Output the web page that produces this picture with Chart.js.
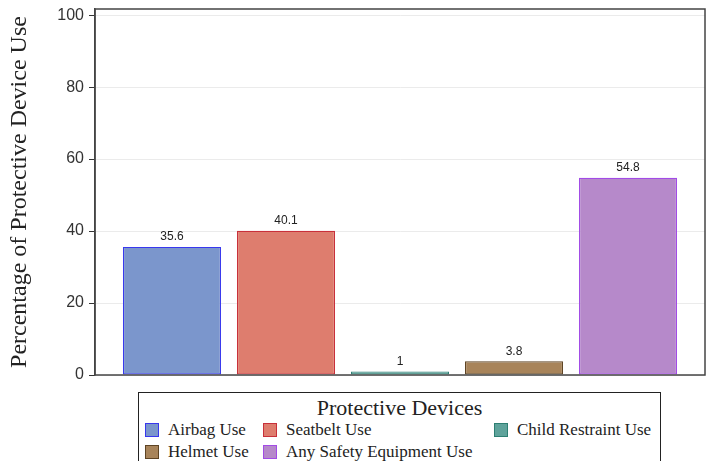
<!DOCTYPE html>
<html>
<head>
<meta charset="utf-8">
<script src="https://cdn.jsdelivr.net/npm/chart.js@4"></script>
<style>
  html, body { margin: 0; padding: 0; background: #fff; overflow: hidden; }
  #wrap { position: relative; width: 713px; height: 461px; }
  #legend {
    position: absolute; left: 138px; top: 392px; width: 521px; height: 90px;
    border: 1px solid #222; background: #fff;
    font-family: "Liberation Serif", serif; color: #222;
  }
  #legend .ttl { text-align: center; font-size: 22px; line-height: 22px; margin-top: 4px; }
  #legend .grid { display: grid; grid-template-columns: 118px 231px auto; padding-left: 6px; }
  #legend .item { display: flex; align-items: center; height: 22px; font-size: 17px; white-space: nowrap; }
  #legend .sw { width: 12px; height: 12px; border: 1.5px solid; margin-right: 9px; }
</style>
</head>
<body>
<div id="wrap">
  <canvas id="chart" width="713" height="461"></canvas>
  <div id="legend"></div>
</div>
<script>
// categories and values
const devices = ['Airbag Use', 'Seatbelt Use', 'Child Restraint Use', 'Helmet Use', 'Any Safety Equipment Use'];
const percents = [35.6, 40.1, 1, 3.8, 54.8];
const yTicks = [0, 20, 40, 60, 80, 100];
const fills = ['#7B96CC', '#DE7D6E', '#5FA39B', '#A8845A', '#B689CA'];
const borders = ['#3838EE', '#C8303A', '#2E7F73', '#5E4424', '#A24BE6'];

// legend grid order (row by row, three columns)
const legendOrder = [0, 1, 2, 3, 4];

const datasets = devices.map((name, i) => ({
  label: name,
  data: [{ x: i, y: percents[i] }],
  backgroundColor: fills[i],
  borderColor: borders[i],
  borderWidth: 1.2,
  borderSkipped: false
}));

// value labels above each bar
const barLabels = {
  id: 'barLabels',
  afterDatasetsDraw(chart) {
    const ctx = chart.ctx;
    ctx.save();
    ctx.font = '12px "Liberation Sans Narrow", "Liberation Sans", sans-serif';
    ctx.fillStyle = '#222';
    ctx.textAlign = 'center';
    ctx.textBaseline = 'bottom';
    chart.data.datasets.forEach((ds, i) => {
      const bar = chart.getDatasetMeta(i).data[0];
      ctx.fillText(String(ds.data[0].y), bar.x, bar.y - 4);
    });
    ctx.restore();
  }
};

// box round the plot area
const frame = {
  id: 'frame',
  afterDraw(chart) {
    const { left, top, right, bottom } = chart.chartArea;
    const ctx = chart.ctx;
    ctx.save();
    ctx.strokeStyle = '#444';
    ctx.lineWidth = 1.5;
    ctx.strokeRect(left, top, right - left, bottom - top);
    ctx.restore();
  }
};

new Chart(document.getElementById('chart'), {
  type: 'bar',
  data: { datasets: datasets },
  options: {
    responsive: false,
    animation: false,
    layout: { padding: { left: 0, right: 8, top: 9, bottom: 86 } },
    datasets: { bar: { grouped: false, barPercentage: 0.86, categoryPercentage: 1 } },
    plugins: { legend: { display: false }, tooltip: { enabled: false } },
    scales: {
      x: {
        type: 'linear', min: -0.675, max: 4.675, offset: false, display: false,
        afterBuildTicks(scale) { scale.ticks = devices.map((d, i) => ({ value: i })); }
      },
      y: {
        min: 0,
        max: 101.7,
        afterFit(scale) {
          scale.width = 95;
          scale.paddingTop = 0;
          scale.paddingBottom = 0;
        },
        afterBuildTicks(scale) { scale.ticks = yTicks.map(v => ({ value: v })); },
        ticks: {
          padding: 5,
          color: '#333',
          font: { family: '"Liberation Sans Narrow", "Liberation Sans", sans-serif', size: 16 }
        },
        grid: { color: '#ebebeb', tickColor: '#333', tickLength: 6 },
        border: { color: '#444', width: 1.5 },
        title: {
          display: true,
          text: 'Percentage of Protective Device Use',
          color: '#222',
          padding: { top: 5, bottom: 0 },
          font: { family: '"Liberation Serif", serif', size: 24 }
        }
      }
    }
  },
  plugins: [barLabels, frame]
});

// html legend laid out in columns
const legendEl = document.getElementById('legend');
let html = '<div class="ttl">Protective Devices</div><div class="grid">';
legendOrder.forEach(i => {
  html += '<div class="item"><span class="sw" style="background:' + fills[i] +
    ';border-color:' + borders[i] + '"></span>' + devices[i] + '</div>';
});
html += '</div>';
legendEl.innerHTML = html;
</script>
</body>
</html>
